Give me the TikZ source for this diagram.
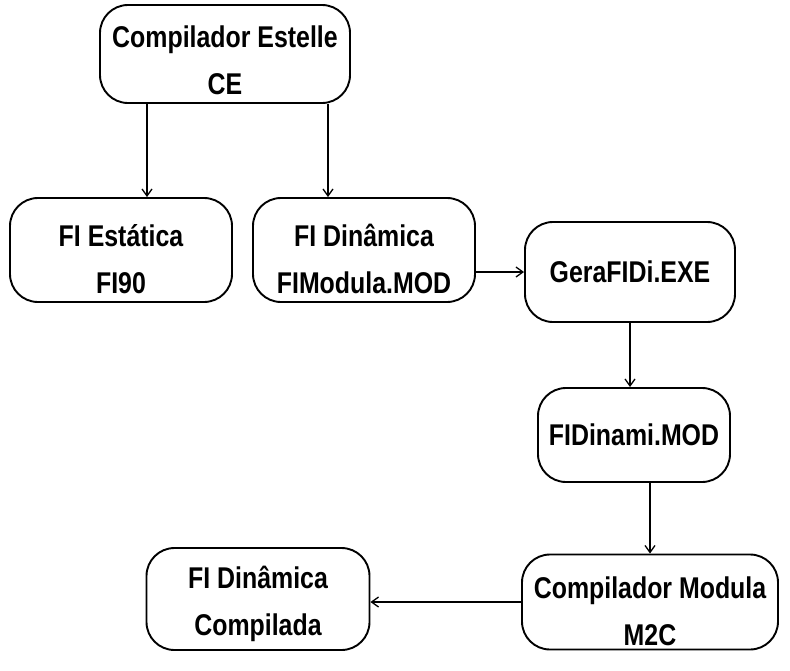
\documentclass[tikz,border=0pt]{standalone}
\usepackage{fontspec}
\setmainfont[FakeStretch=0.83]{Liberation Sans}
\usetikzlibrary{arrows.meta}
\begin{document}
\begin{tikzpicture}[x=1pt,y=-1pt,
  box/.style={draw=black, line width=1.9pt, rounded corners=28pt, inner sep=0pt},
  txt/.style={font=\fontsize{30pt}{47pt}\selectfont\bfseries, align=center, inner sep=0pt},
  arr/.style={-{Straight Barb[length=7pt,width=10pt,line width=1.3pt]}, line width=1.3pt}]
\useasboundingbox (0,0) rectangle (790,670);

% boxes
\node[box, minimum width=250pt, minimum height=98pt]  (ce)   at (225,54)  {};
\node[box, minimum width=222pt, minimum height=104pt] (fis)  at (121,250) {};
\node[box, minimum width=222pt, minimum height=104pt] (fid)  at (364,250) {};
\node[box, minimum width=210pt, minimum height=100pt] (gera) at (630,272) {};
\node[box, minimum width=192pt, minimum height=94pt]  (fidn) at (634,435) {};
\node[box, minimum width=256pt, minimum height=95pt]  (m2c)  at (650,602) {};
\node[box, minimum width=223pt, minimum height=102pt] (fic)  at (258,599) {};

% labels
\node[txt] (ce-t)   at ([yshift=-6pt]ce.center)   {Compilador Estelle\\CE};
\node[txt] (fis-t)  at ([yshift=-9pt]fis.center)  {FI Estática\\FI90};
\node[txt] (fid-t)  at ([yshift=-9pt]fid.center)  {FI Dinâmica\\FIModula.MOD};
\node[txt] (gera-t) at (gera.center)              {GeraFIDi.EXE};
\node[txt] (fidn-t) at (fidn.center)              {FIDinami.MOD};
\node[txt] (m2c-t)  at ([yshift=-9pt]m2c.center)  {Compilador Modula\\M2C};
\node[txt] (fic-t)  at ([yshift=-5pt]fic.center)  {FI Dinâmica\\Compilada};

% connectors
\draw[arr] ([xshift=26pt]fis.north |- ce.south) -- ([xshift=26pt]fis.north);
\draw[arr] ([xshift=-36pt]fid.north |- ce.south) -- ([xshift=-36pt]fid.north);
\draw[arr] (fid.east |- gera.west) -- (gera.west);
\draw[arr] (gera.south) -- (gera.south |- fidn.north);
\draw[arr] (m2c.north |- fidn.south) -- (m2c.north);
\draw[arr] (m2c.west) -- (m2c.west -| fic.east);
\end{tikzpicture}
\end{document}
